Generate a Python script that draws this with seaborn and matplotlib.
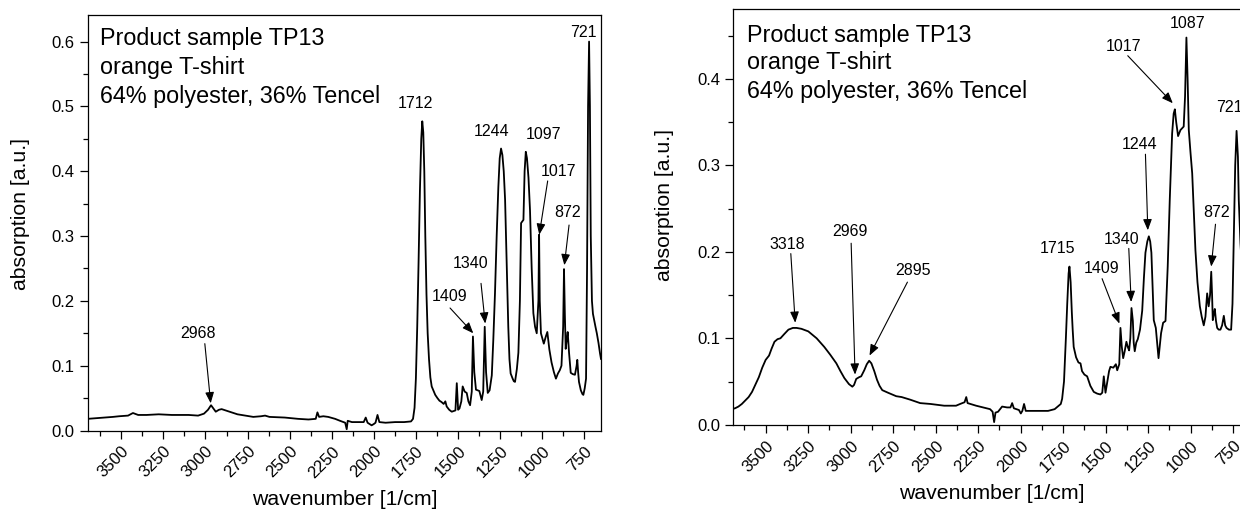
import matplotlib

matplotlib.use("Agg")
import matplotlib.pyplot as plt
import pandas as pd
import seaborn as sns
from matplotlib.ticker import MultipleLocator


# spectrum of the left panel (wavenumber in 1/cm, absorption in a.u.)
LEFT_WN = [
    3700, 3650, 3600, 3550, 3513, 3460, 3431, 3400, 3350, 3278, 3200, 3100, 3044,
    3009, 2985, 2967, 2950, 2939, 2920, 2904, 2870, 2810, 2716, 2670, 2646, 2620,
    2529, 2450, 2388, 2345, 2335, 2325, 2300, 2271, 2230, 2201, 2170, 2161, 2155,
    2130, 2107, 2060, 2048, 2037, 2013, 2000, 1990, 1978, 1967, 1930, 1873, 1820,
    1779, 1767, 1758, 1750, 1742, 1734, 1726, 1718, 1712, 1706, 1700, 1694, 1687,
    1680, 1672, 1664, 1656, 1646, 1635, 1622, 1610, 1598, 1585, 1575, 1567, 1552,
    1537, 1515, 1507, 1499, 1491, 1480, 1472, 1460, 1448, 1438, 1428, 1418, 1411,
    1403, 1393, 1383, 1373, 1359, 1350, 1341, 1333, 1323, 1312, 1299, 1290, 1280,
    1270, 1260, 1252, 1244, 1236, 1228, 1220, 1210, 1201, 1194, 1187, 1175, 1168,
    1161, 1150, 1141, 1132, 1125, 1111, 1104, 1097, 1090, 1081, 1072, 1062, 1052,
    1042, 1032, 1022, 1018, 1014, 1007, 990, 978, 969, 957, 944, 930, 918, 906,
    895, 885, 875, 870, 865, 860, 854, 848, 840, 830, 818, 805, 795, 791, 786, 781,
    770, 760, 755, 747, 739, 733, 727, 721, 716, 711, 704, 698, 691, 683, 675, 665,
    656, 650,
]
LEFT_ABS = [
    0.018, 0.019, 0.020, 0.021, 0.022, 0.023, 0.027, 0.024, 0.024, 0.025, 0.024, 0.024, 0.023,
    0.026, 0.032, 0.039, 0.033, 0.029, 0.032, 0.033, 0.030, 0.025, 0.021, 0.022, 0.023, 0.021,
    0.020, 0.018, 0.017, 0.018, 0.028, 0.021, 0.022, 0.021, 0.018, 0.015, 0.012, 0.002, 0.015,
    0.013, 0.013, 0.013, 0.020, 0.012, 0.008, 0.010, 0.012, 0.024, 0.013, 0.012, 0.013, 0.013,
    0.014, 0.018, 0.035, 0.080, 0.160, 0.260, 0.370, 0.450, 0.477, 0.460, 0.400, 0.300, 0.210,
    0.150, 0.110, 0.082, 0.068, 0.062, 0.055, 0.050, 0.046, 0.044, 0.041, 0.045, 0.037, 0.032,
    0.029, 0.031, 0.073, 0.032, 0.034, 0.045, 0.068, 0.060, 0.058, 0.045, 0.039, 0.060, 0.145,
    0.090, 0.063, 0.062, 0.061, 0.047, 0.060, 0.160, 0.090, 0.058, 0.062, 0.085, 0.140, 0.212,
    0.300, 0.376, 0.420, 0.435, 0.425, 0.400, 0.356, 0.250, 0.160, 0.110, 0.088, 0.080, 0.076,
    0.075, 0.095, 0.120, 0.200, 0.320, 0.325, 0.400, 0.430, 0.420, 0.390, 0.340, 0.250, 0.181,
    0.160, 0.150, 0.200, 0.302, 0.200, 0.150, 0.134, 0.145, 0.152, 0.125, 0.105, 0.090, 0.080, 0.088,
    0.093, 0.100, 0.160, 0.249, 0.180, 0.126, 0.140, 0.152, 0.120, 0.089, 0.087, 0.086, 0.100, 0.109, 0.090, 0.075,
    0.062, 0.056, 0.055, 0.065, 0.080, 0.250, 0.500, 0.600, 0.500, 0.300, 0.200, 0.180, 0.171, 0.160, 0.150, 0.135,
    0.119, 0.110,
]

# spectrum of the right panel
RIGHT_WN = [
    3700, 3680, 3660, 3640, 3625, 3600, 3580, 3566, 3540, 3520, 3500, 3480, 3465,
    3448, 3430, 3413, 3390, 3366, 3340, 3318, 3290, 3249, 3200, 3155, 3120, 3084,
    3060, 3037, 3010, 2990, 2980, 2967, 2950, 2938, 2920, 2905, 2891, 2878, 2861,
    2845, 2830, 2814, 2780, 2732, 2700, 2650, 2591, 2530, 2450, 2380, 2356, 2330,
    2320, 2312, 2262, 2220, 2180, 2165, 2156, 2148, 2133, 2109, 2080, 2060, 2050,
    2040, 2010, 1999, 1990, 1980, 1970, 1956, 1900, 1839, 1800, 1764, 1756, 1745,
    1734, 1726, 1718, 1713, 1706, 1699, 1694, 1688, 1674, 1660, 1648, 1639, 1625,
    1609, 1590, 1570, 1550, 1531, 1520, 1511, 1501, 1490, 1480, 1472, 1455, 1440,
    1432, 1420, 1413, 1405, 1397, 1388, 1378, 1370, 1362, 1355, 1348, 1340, 1335,
    1329, 1320, 1311, 1298, 1285, 1275, 1266, 1255, 1246, 1238, 1231, 1224, 1217,
    1205, 1197, 1189, 1182, 1174, 1162, 1148, 1142, 1135, 1123, 1109, 1100, 1093,
    1085, 1074, 1060, 1041, 1033, 1025, 1018, 1011, 1001, 991, 982, 972, 960, 946,
    935, 923, 913, 903, 894, 886, 879, 874, 870, 864, 858, 851, 844, 835, 825, 815,
    805, 797, 789, 775, 762, 754, 746, 738, 730, 722, 717, 707, 695, 680, 665, 650,
]
RIGHT_ABS = [
    0.018, 0.019, 0.021, 0.024, 0.027, 0.032, 0.038, 0.044, 0.055, 0.066, 0.075, 0.080, 0.088,
    0.096, 0.099, 0.100, 0.105, 0.110, 0.112, 0.112, 0.111, 0.108, 0.100, 0.090, 0.081, 0.071,
    0.062, 0.054, 0.047, 0.044, 0.046, 0.053, 0.055, 0.056, 0.063, 0.070, 0.074, 0.071, 0.062,
    0.052, 0.045, 0.040, 0.037, 0.033, 0.032, 0.029, 0.025, 0.024, 0.022, 0.022, 0.024, 0.026,
    0.032, 0.025, 0.022, 0.020, 0.018, 0.015, 0.003, 0.014, 0.015, 0.021, 0.020, 0.020, 0.025,
    0.019, 0.017, 0.013, 0.016, 0.024, 0.016, 0.016, 0.016, 0.016, 0.018, 0.024, 0.030, 0.050,
    0.100, 0.140, 0.175, 0.183, 0.165, 0.130, 0.110, 0.090, 0.078, 0.072, 0.071, 0.062, 0.058,
    0.056, 0.045, 0.038, 0.036, 0.035, 0.037, 0.056, 0.037, 0.050, 0.062, 0.067, 0.066, 0.070,
    0.063, 0.070, 0.112, 0.090, 0.077, 0.085, 0.096, 0.090, 0.086, 0.100, 0.135, 0.120, 0.095,
    0.085, 0.095, 0.099, 0.110, 0.132, 0.170, 0.199, 0.212, 0.218, 0.212, 0.199, 0.160, 0.121,
    0.112, 0.095, 0.077, 0.090, 0.106, 0.118, 0.120, 0.150, 0.183, 0.260, 0.337, 0.360, 0.365,
    0.350, 0.334, 0.341, 0.345, 0.380, 0.448, 0.400, 0.341, 0.315, 0.291, 0.250, 0.202, 0.165, 0.137,
    0.125, 0.115, 0.125, 0.152, 0.137, 0.150, 0.177, 0.150, 0.121, 0.128, 0.134, 0.120, 0.112, 0.110, 0.110, 0.115,
    0.126, 0.115, 0.112, 0.110, 0.110, 0.140, 0.222, 0.300, 0.340, 0.310, 0.260, 0.210, 0.170, 0.150, 0.135, 0.120,
]

SAMPLE_LINES = ["Product sample TP13", "orange T-shirt", "64% polyester, 36% Tencel"]
XTICKS = [3500, 3250, 3000, 2750, 2500, 2250, 2000, 1750, 1500, 1250, 1000, 750]

# peak labels: text, label centre, arrow tail and tip (None = no arrow)
LEFT_PEAKS = ["2968", "1712", "1409", "1340", "1244", "1097", "1017", "872", "721"]
LEFT_LABEL_WN = [3044, 1751, 1547, 1424, 1298, 993, 904, 849, 757]
LEFT_LABEL_Y = [0.149, 0.504, 0.206, 0.258, 0.462, 0.457, 0.399, 0.336, 0.614]
LEFT_ARROW_FROM = [(3004, 0.134), None, (1547, 0.189), (1363, 0.227), None, None,
                   (967, 0.385), (840, 0.317), None]
LEFT_ARROW_TO = [(2969, 0.042), None, (1409, 0.150), (1338, 0.165), None, None,
                 (1017, 0.302), (868, 0.255), None]

RIGHT_PEAKS = ["3318", "2969", "2895", "1715", "1409", "1340", "1244", "1017", "1087", "872", "721"]
RIGHT_LABEL_WN = [3370, 3002, 2633, 1785, 1523, 1405, 1299, 1394, 1017, 850, 770]
RIGHT_LABEL_Y = [0.209, 0.224, 0.179, 0.204, 0.181, 0.214, 0.324, 0.438, 0.464, 0.245, 0.367]
RIGHT_ARROW_FROM = [(3352, 0.198), (2997, 0.210), (2666, 0.165), None, (1521, 0.169),
                    (1364, 0.204), (1266, 0.313), (1370, 0.427), None, (854, 0.232), None]
RIGHT_ARROW_TO = [(3326, 0.118), (2974, 0.058), (2889, 0.080), None, (1419, 0.117),
                  (1350, 0.142), (1252, 0.225), (1105, 0.372), None, (879, 0.183), None]


def draw_panel(ax, wn, absorb, xlim, ylim, yticks, peaks, label_wn, label_y,
               arrow_from, arrow_to, text_x, text_ys, ylabel_y):
    df = pd.DataFrame({"wavenumber": wn, "absorption": absorb})
    sns.lineplot(data=df, x="wavenumber", y="absorption", ax=ax, color="black",
                 lw=1.3, estimator=None)

    ax.set_xlim(*xlim)
    ax.set_ylim(*ylim)
    ax.set_xticks(XTICKS)
    ax.set_xticklabels([str(t) for t in XTICKS], rotation=45, ha="right",
                       rotation_mode="anchor")
    ax.xaxis.set_minor_locator(MultipleLocator(125))
    ax.set_yticks(yticks)
    ax.set_yticklabels([f"{t:.1f}" for t in yticks])
    ax.yaxis.set_minor_locator(MultipleLocator(0.05))
    ax.tick_params(which="major", direction="out", length=6, width=0.9,
                   labelsize=12, pad=3.5, top=False, right=False, colors="black")
    ax.tick_params(which="minor", direction="out", length=3.5, width=0.9,
                   top=False, right=False, colors="black")
    for side in ["top", "right", "bottom", "left"]:
        ax.spines[side].set_visible(True)
        ax.spines[side].set_linewidth(0.9)
        ax.spines[side].set_color("black")

    ax.set_xlabel("wavenumber [1/cm]", fontsize=15.3, color="black")
    ax.set_ylabel("absorption [a.u.]", fontsize=15.3, color="black")
    ax.xaxis.set_label_coords(0.5, -0.143)
    ax.yaxis.set_label_coords(text_x[1], ylabel_y)

    for line, y in zip(SAMPLE_LINES, text_ys):
        ax.text(text_x[0], y, line, transform=ax.transAxes, fontsize=16.8,
                ha="left", va="baseline", color="black")

    for text, x, y, start, end in zip(peaks, label_wn, label_y, arrow_from, arrow_to):
        ax.text(x, y, text, fontsize=11.5, ha="center", va="center", color="black")
        if start is not None:
            ax.annotate("", xy=end, xytext=start,
                        arrowprops=dict(arrowstyle="-|>,head_length=0.55,head_width=0.22",
                                        color="black", lw=0.8, shrinkA=0, shrinkB=0,
                                        mutation_scale=12))


def main() -> None:
    sns.set_theme(style="ticks")
    plt.rcParams["font.family"] = ["Liberation Sans", "DejaVu Sans"]
    plt.rcParams["axes.edgecolor"] = "black"
    plt.rcParams["text.color"] = "black"
    plt.rcParams["axes.labelcolor"] = "black"

    fig = plt.figure(figsize=(12.4, 5.09), dpi=100)
    ax_left = fig.add_axes([0.0707, 0.1542, 0.4140, 0.8163])
    ax_right = fig.add_axes([0.5914, 0.1656, 0.4168, 0.8161])

    draw_panel(ax_left, LEFT_WN, LEFT_ABS, (3700, 650), (0, 0.641),
               [0.0, 0.1, 0.2, 0.3, 0.4, 0.5, 0.6], LEFT_PEAKS, LEFT_LABEL_WN,
               LEFT_LABEL_Y, LEFT_ARROW_FROM, LEFT_ARROW_TO,
               (0.0249, -0.1124), (0.9278, 0.858, 0.788), 0.521)
    draw_panel(ax_right, RIGHT_WN, RIGHT_ABS, (3690, 650), (0, 0.4807),
               [0.0, 0.1, 0.2, 0.3, 0.4], RIGHT_PEAKS, RIGHT_LABEL_WN,
               RIGHT_LABEL_Y, RIGHT_ARROW_FROM, RIGHT_ARROW_TO,
               (0.0265, -0.1147), (0.922, 0.8556, 0.7872), 0.529)

    fig.savefig("out.png", dpi=100, facecolor="white")
    plt.close(fig)


if __name__ == "__main__":
    main()
